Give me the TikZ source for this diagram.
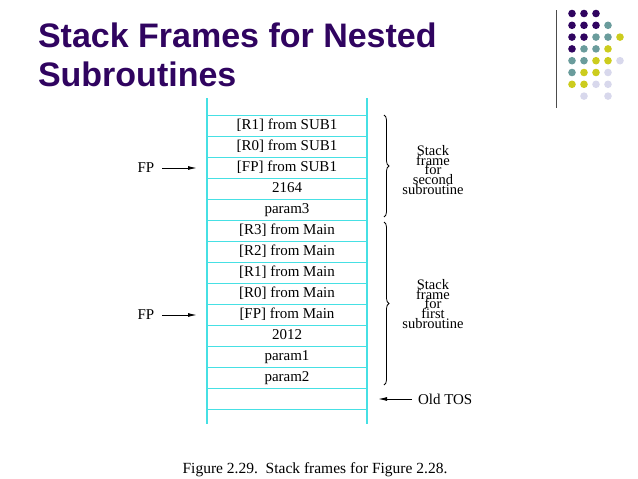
\documentclass[tikz,border=0pt]{standalone}
\usepackage{fontspec}
\setmainfont{Liberation Serif}
\newfontfamily\titlefont{Liberation Sans}
\usetikzlibrary{arrows.meta}
\usetikzlibrary{decorations.pathreplacing}
\definecolor{tpurple}{RGB}{48,4,96}
\definecolor{tteal}{RGB}{106,156,156}
\definecolor{tyellow}{RGB}{204,204,30}
\definecolor{tlav}{RGB}{216,216,236}
\definecolor{stackcyan}{RGB}{70,224,228}
\newcommand{\spot}[3]{\fill[#3] (572+12*#1,13.5+11.8*#2) circle (3.8pt);}
\newcommand{\tightlines}{\lineskiplimit=-20pt\relax}
\tikzset{
  titletext/.style={anchor=base west, text=tpurple, font=\titlefont\bfseries\fontsize{34}{40}\selectfont},
  cellbox/.style={draw=stackcyan, line width=1.3pt, minimum width=160pt, minimum height=21pt,
    text height=10pt, text depth=3pt, font=\fontsize{15}{16}\selectfont},
  framelabel/.style={align=center, font=\fontsize{14.5}{9.8}\selectfont\tightlines},
  bracestyle/.style={decorate, decoration={brace, amplitude=5pt}, line width=0.8pt},
  ptr/.style={-{Latex[length=9pt,width=4pt]}, line width=1pt}
}

\begin{document}
\begin{tikzpicture}[x=1pt, y=-1pt, every node/.style={inner sep=0pt, outer sep=0pt, font=\fontsize{15}{16}\selectfont}]
    \useasboundingbox (0,0) rectangle (638,479);

    % title
    \node[titletext] (title1) at (38,47) {Stack Frames for Nested};
    \node[titletext] (title2) at (38,86) {Subroutines};

    % dots in the corner
    \draw[black!70, line width=0.8pt] (556,10) -- (556,108);
    \foreach \r/\row in {0/{tpurple,tpurple,tpurple},
                        1/{tpurple,tpurple,tpurple,tteal},
                        2/{tpurple,tpurple,tteal,tteal,tyellow},
                        3/{tpurple,tteal,tteal,tyellow},
                        4/{tteal,tteal,tyellow,tyellow,tlav},
                        5/{tteal,tyellow,tyellow,tlav},
                        6/{tyellow,tyellow,tlav,tlav}}
      \foreach \col [count=\k from 0] in \row { \spot{\k}{\r}{\col} }
    \spot{1}{7}{tlav}
    \spot{3}{7}{tlav}

    % the stack
    \draw[stackcyan, line width=1.3pt] (207,98) -- (207,424);
    \draw[stackcyan, line width=1.3pt] (367,98) -- (367,424);
    \foreach \txt [count=\i] in {{[R1] from SUB1},{[R0] from SUB1},{[FP] from SUB1},{2164},{param3},
        {[R3] from Main},{[R2] from Main},{[R1] from Main},{[R0] from Main},{[FP] from Main},
        {2012},{param1},{param2},{}}
      \node[cellbox] (c\i) at (287,105+21*\i) {\txt};

    % frames
    \draw[bracestyle] (384,115) -- (384,217);
    \draw[bracestyle] (384,222) -- (384,385);
    \node[framelabel] (frame2) at (433,170) {Stack\\frame\\for\\second\\subroutine};
    \node[framelabel] (frame1) at (433,304) {Stack\\frame\\for\\first\\subroutine};

    % pointers
    \node (fp1) at (146,168) {FP};
    \node (fp2) at (146,315) {FP};
    \draw[ptr, shorten <=8pt, shorten >=10pt] (fp1) -- (c3);
    \draw[ptr, shorten <=8pt, shorten >=10pt] (fp2) -- (c10);
    \node[anchor=west] (tos) at (418,399) {Old TOS};
    \draw[ptr, shorten <=6pt, shorten >=11pt] (tos) -- (c14);

    %\node at (287,440) (x) {};
    \node[font=\fontsize{15.5}{17}\selectfont] (caption) at (315,470) {Figure 2.29.\ \ Stack frames for Figure 2.28.};

\end{tikzpicture}
\end{document}
